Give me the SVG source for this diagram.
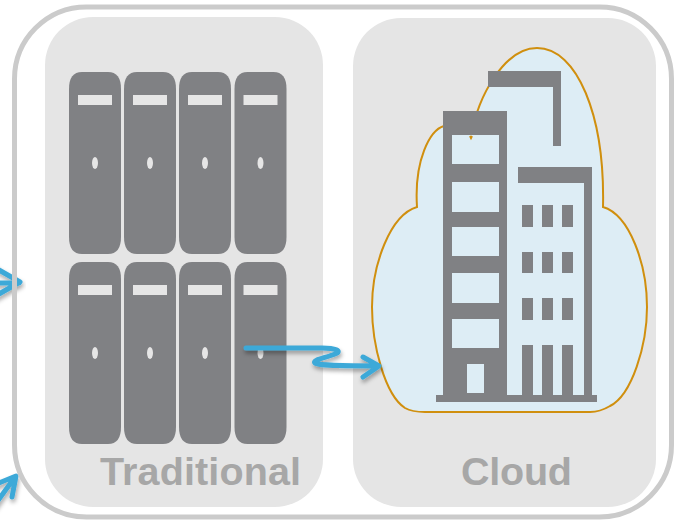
<svg xmlns="http://www.w3.org/2000/svg" width="675" height="520" viewBox="0 0 675 520">
<style>
.panel{fill:#e5e5e5}
.frame{fill:none;stroke:#cbcbcb;stroke-width:5}
.srv{fill:#808184}
.lt{fill:#e6e6e6}
.g{fill:#808184}
.win{fill:#ddedf5}
.lbl{font-family:"Liberation Sans",Arial,sans-serif;font-weight:700;font-size:39.500px;fill:#a7a7a7}
.arr{fill:none;stroke:#3ea9d8;stroke-width:5;stroke-linecap:round;stroke-linejoin:round}
</style>
<defs>
<filter id="sh" x="-20%" y="-40%" width="140%" height="200%"><feDropShadow dx="1" dy="3" stdDeviation="2" flood-color="#000" flood-opacity="0.35"/></filter>
<g id="sv">
<path class="srv" d="M13 0H39Q52 0 52 17V165Q52 182 39 182H13Q0 182 0 165V17Q0 0 13 0Z"/>
<rect class="lt" x="9" y="23" width="34" height="10"/>
<ellipse class="lt" cx="26" cy="91" rx="3" ry="6"/>
</g>
</defs>
<rect width="675" height="520" fill="#fff"/>
<g id="connectors-back">
<g filter="url(#sh)">
<path class="arr" d="M-8 283H19M-8 266L20 282L-8 298"/>
<path class="arr" d="M-6 506L15 477M-6 485L16 476L12 497"/>
</g>
</g>
<g id="frame"><rect class="frame" x="14.500" y="7" width="657" height="510" rx="72" ry="72"/></g>
<g id="traditional">
<rect class="panel" x="45" y="17" width="278" height="490" rx="48" ry="48"/>
<use href="#sv" x="69" y="72"/><use href="#sv" x="124" y="72"/><use href="#sv" x="179" y="72"/><use href="#sv" x="234.500" y="72"/>
<use href="#sv" x="69" y="262"/><use href="#sv" x="124" y="262"/><use href="#sv" x="179" y="262"/><use href="#sv" x="234.500" y="262"/>
<text class="lbl" x="100" y="485" textLength="201" lengthAdjust="spacing">Traditional</text>
</g>
<g id="cloud">
<rect class="panel" x="353" y="18" width="303" height="489" rx="48" ry="48"/>
<path d="M471 137C478 95 505 48 537 48C577 48 605 115 603 207C630 215 647 265 647 307C647 345 632 395 610 406Q600 412 590 412H425Q412 412 405 408C385 395 372 345 372 307C372 265 390 215 417 207C414 160 430 130 444 126C455 122 465 125 471 137Z" fill="#ddedf5" stroke="#d08f0e" stroke-width="2"/>
<g id="building">
<path class="g" d="M443 111H507V395H443Z"/>
<rect class="win" x="452" y="135" width="47" height="29"/>
<rect class="win" x="452" y="182" width="47" height="30"/>
<rect class="win" x="452" y="227" width="47" height="29"/>
<rect class="win" x="452" y="273" width="47" height="30"/>
<rect class="win" x="452" y="319" width="47" height="29"/>
<rect class="win" x="467" y="364" width="17" height="29"/>
<path class="g" d="M488 71H561V146H553V87H488Z"/>
<path class="g" d="M518 167H592V395H584V183H518Z"/>
<rect class="g" x="436" y="395" width="161" height="7"/>
<path class="g" d="M522 205h11v22h-11zM542 205h11v22h-11zM562 205h11v22h-11zM522 252h11v21h-11zM542 252h11v21h-11zM562 252h11v21h-11zM522 298h11v22h-11zM542 298h11v22h-11zM562 298h11v22h-11zM522 345h11v50h-11zM542 345h11v50h-11zM562 345h11v50h-11z"/>
<path d="M470 136L471 138L472 136" fill="none" stroke="#d08f0e" stroke-width="2"/>
</g>
<text class="lbl" x="461" y="485" textLength="111" lengthAdjust="spacing">Cloud</text>
</g>
<g id="connectors">
<path class="arr" filter="url(#sh)" d="M246 348H322C335 348 343 351 335 354C325 358 312 360 315 363C320 366 350 366 378 366M363 357L379 366L363 377"/>
</g>
</svg>
